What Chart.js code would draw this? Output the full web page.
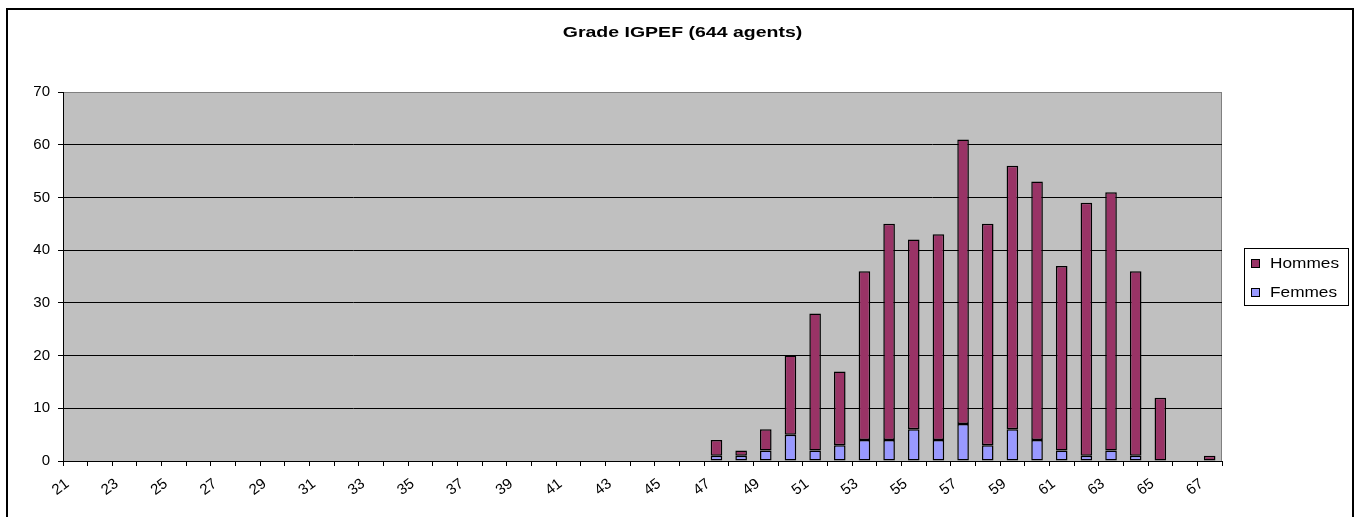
<!DOCTYPE html>
<html>
<head>
<meta charset="utf-8">
<title>Grade IGPEF</title>
<script src="https://cdn.jsdelivr.net/npm/chart.js@4.4.1/dist/chart.umd.min.js"></script>
<style>
  html, body { margin: 0; padding: 0; background: #fff; }
  canvas { display: block; }
</style>
</head>
<body>
<canvas id="ageChart" width="1359" height="517"></canvas>
<script>
// Données
const chartTitle = 'Grade IGPEF (644 agents)';
const ages = ['21','22','23','24','25','26','27','28','29','30','31','32','33','34','35','36',
              '37','38','39','40','41','42','43','44','45','46','47','48','49','50','51','52',
              '53','54','55','56','57','58','59','60','61','62','63','64','65','66','67'];
const femmes = [0,0,0,0,0,0,0,0,0,0,0,0,0,0,0,0,0,0,0,0,0,0,0,0,0,0,
                1,1,2,5,2,3,4,4,6,4,7,3,6,4,2,1,2,1,0,0,0];
const hommes = [0,0,0,0,0,0,0,0,0,0,0,0,0,0,0,0,0,0,0,0,0,0,0,0,0,0,
                3,1,4,15,26,14,32,41,36,39,54,42,50,49,35,48,49,35,12,0,1];
const yTicks = { min: 0, max: 70, step: 10 };

const FONT = 'Arial, "Liberation Sans", sans-serif';

// Fond gris de la zone de traçage + cadre
const plotBackground = {
    id: 'plotBackground',
    beforeDraw(chart) {
        const { ctx, chartArea: a } = chart;
        ctx.save();
        ctx.fillStyle = '#c0c0c0';
        ctx.fillRect(a.left, a.top, a.right - a.left, a.bottom - a.top);
        ctx.strokeStyle = '#808080';
        ctx.lineWidth = 1;
        ctx.strokeRect(a.left + 0.5, a.top + 0.5, a.right - a.left - 1, a.bottom - a.top);
        ctx.restore();
    }
};

// Titre, légende encadrée et bordure extérieure (texte un peu élargi comme l'original)
const decorations = {
    id: 'decorations',
    afterDraw(chart) {
        const { ctx, chartArea: a } = chart;
        ctx.save();
        // titre
        ctx.fillStyle = '#000';
        ctx.font = 'bold 15px ' + FONT;
        ctx.textAlign = 'center';
        ctx.textBaseline = 'alphabetic';
        ctx.save();
        ctx.translate(chart.width / 2 + 3, 37);
        ctx.scale(1.3, 1);
        ctx.fillText(chartTitle, 0, 0);
        ctx.restore();

        // légende
        const lx = a.right + 22, lw = 104, lh = 57;
        const ly = Math.round((a.top + a.bottom) / 2 - lh / 2);
        ctx.strokeStyle = '#000';
        ctx.lineWidth = 1;
        ctx.fillStyle = '#fff';
        ctx.fillRect(lx, ly, lw, lh);
        ctx.strokeRect(lx + 0.5, ly + 0.5, lw, lh);
        const items = chart.data.datasets.slice().reverse();
        ctx.font = '15px ' + FONT;
        ctx.textAlign = 'left';
        items.forEach((ds, i) => {
            const cy = ly + 15 + i * 29;
            ctx.fillStyle = ds.backgroundColor;
            ctx.fillRect(lx + 7, cy - 4, 9, 9);
            ctx.strokeRect(lx + 7.5, cy - 3.5, 8, 8);
            ctx.fillStyle = '#000';
            ctx.save();
            ctx.translate(lx + 26, cy + 5);
            ctx.scale(1.15, 1);
            ctx.fillText(ds.label, 0, 0);
            ctx.restore();
        });

        // cadre extérieur
        ctx.lineWidth = 2;
        ctx.strokeStyle = '#000';
        ctx.strokeRect(7, 9, 1346, 600);
        ctx.restore();
    }
};

const ctx = document.getElementById('ageChart').getContext('2d');
const ageChart = new Chart(ctx, {
    type: 'bar',
    data: {
        labels: ages,
        datasets: [
            {
                label: 'Femmes',
                data: femmes,
                backgroundColor: '#9999ff',
                borderColor: '#000',
                borderWidth: 1.5,
                borderSkipped: false,
                barPercentage: 0.47,
                categoryPercentage: 1
            },
            {
                label: 'Hommes',
                data: hommes,
                backgroundColor: '#993366',
                borderColor: '#000',
                borderWidth: 1.5,
                borderSkipped: false,
                barPercentage: 0.47,
                categoryPercentage: 1
            }
        ]
    },
    options: {
        responsive: false,
        animation: false,
        events: [],
        layout: { padding: { left: 0, right: 137, top: 92, bottom: 0 } },
        plugins: {
            legend: { display: false },
            title: { display: false },
            tooltip: { enabled: false }
        },
        scales: {
            x: {
                stacked: true,
                afterFit(scale) { scale.height = 56; },
                grid: {
                    offset: true,
                    drawOnChartArea: false,
                    drawTicks: true,
                    tickLength: 5,
                    color: '#000'
                },
                border: { color: '#000', width: 1 },
                ticks: {
                    autoSkip: false,
                    minRotation: 37,
                    maxRotation: 37,
                    padding: 9,
                    labelOffset: -8,
                    color: '#000',
                    font: { family: FONT, size: 15 },
                    callback: function (v, i) {
                        return i % 2 === 0 ? this.getLabelForValue(v) : '';
                    }
                }
            },
            y: {
                stacked: true,
                min: yTicks.min,
                max: yTicks.max,
                afterFit(scale) { scale.width = 63; },
                grid: {
                    color: (c) => (c.tick && c.tick.value === yTicks.max ? '#808080' : '#000'),
                    tickColor: '#000',
                    tickLength: 5,
                    drawTicks: true
                },
                border: { color: '#000', width: 1 },
                ticks: {
                    stepSize: yTicks.step,
                    padding: 8,
                    color: '#000',
                    font: { family: FONT, size: 15 }
                }
            }
        }
    },
    plugins: [plotBackground, decorations]
});
</script>
</body>
</html>
